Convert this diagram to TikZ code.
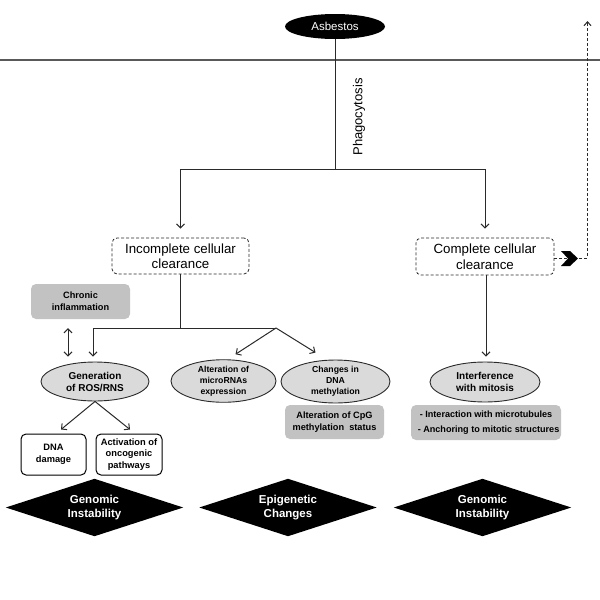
\documentclass[tikz,border=0pt]{standalone}
\usepackage{fontspec}
\setmainfont{Liberation Sans}
\usetikzlibrary{shapes.geometric,arrows.meta}
\definecolor{ellfill}{HTML}{DADADA}
\definecolor{boxgray}{HTML}{C2C2C2}
\definecolor{linec}{HTML}{2A2A2A}
\begin{document}
\begin{tikzpicture}[x=1pt,y=-1pt,
  conn/.style={draw=linec,line width=1pt},
  arr/.style={conn,-{Straight Barb[length=4pt,width=8pt]}},
  dbl/.style={conn,{Straight Barb[length=4pt,width=8pt]}-{Straight Barb[length=4pt,width=8pt]}},
  dashbox/.style={draw=linec,line width=0.8pt,dash pattern=on 3pt off 2pt,rounded corners=5pt,fill=white,inner sep=0pt,align=center,font=\fontsize{13.3}{15.5}\selectfont},
  ell/.style={ellipse,draw=linec,line width=0.9pt,fill=ellfill,inner sep=0pt,align=center,font=\bfseries\fontsize{10}{12}\selectfont},
  graybox/.style={rectangle,rounded corners=5pt,fill=boxgray,inner sep=0pt,align=center,font=\bfseries\fontsize{9.2}{12}\selectfont},
  whitebox/.style={rectangle,rounded corners=5pt,draw=black,line width=1pt,fill=white,inner sep=0pt,align=center,font=\bfseries\fontsize{9.3}{11.5}\selectfont},
  dmd/.style={rectangle,inner sep=0pt,minimum width=177pt,minimum height=57pt,align=center,text=white,font=\bfseries\fontsize{11.5}{14}\selectfont}
]
\path[use as bounding box] (0,0) rectangle (600,600);

% membrane
\draw[line width=1.4pt,draw=gray!70!black] (0,60) -- (600,60);

% nodes
\node[ellipse,fill=black,text=white,minimum width=100pt,minimum height=25pt,inner sep=0pt,font=\fontsize{11.5}{13}\selectfont] (asb) at (335,26.5) {Asbestos};
\node[rotate=90,font=\fontsize{13}{15}\selectfont] (phago) at (359,117) {Phagocytosis};

\node[dashbox,minimum width=137pt,minimum height=36pt] (inc) at (180.5,256) {Incomplete cellular\\clearance};
\node[dashbox,minimum width=138pt,minimum height=37pt] (cc) at (485,256.5) {Complete cellular\\clearance};

\node[graybox,minimum width=99pt,minimum height=35pt] (chr) at (80.5,301.5) {Chronic\\inflammation};

\node[ell,minimum width=108pt,minimum height=39pt] (ros) at (95,381.5) {Generation\\of ROS/RNS};
\node[ell,minimum width=105pt,minimum height=42pt,font=\bfseries\fontsize{8.7}{11}\selectfont] (mir) at (223.5,381) {Alteration of\\microRNAs\\expression};
\node[ell,minimum width=109pt,minimum height=43pt,font=\bfseries\fontsize{8.7}{11}\selectfont] (meth) at (335.5,381.5) {Changes in\\DNA\\methylation};
\node[ell,minimum width=110pt,minimum height=40pt] (int) at (485,382) {Interference\\with mitosis};

\node[graybox,minimum width=99pt,minimum height=34pt] (cpg) at (334.5,422) {Alteration of CpG\\methylation\ \ status};
\node[graybox,minimum width=150pt,minimum height=35pt,font=\bfseries\fontsize{9.1}{15}\selectfont] (mito) at (486,422.5) {- Interaction with microtubules\\\ \ - Anchoring to mitotic structures};

\node[whitebox,minimum width=65pt,minimum height=41pt] (dmg) at (53.5,454.5) {DNA\\damage};
\node[whitebox,minimum width=66pt,minimum height=41pt] (act) at (129,454.5) {Activation of\\oncogenic\\pathways};

\node[dmd] (g1) at (94.5,507.5) {};
\node[dmd] (epi) at (288,507.5) {};
\node[dmd] (g2) at (482.5,507.5) {};
\foreach \n in {g1,epi,g2}{
  \fill[black] (\n.west) -- (\n.north) -- (\n.east) -- (\n.south) -- cycle;
}
\node[dmd] (g1t) at (g1) {Genomic\\Instability};
\node[dmd] (epit) at (epi) {Epigenetic\\Changes};
\node[dmd] (g2t) at (g2) {Genomic\\Instability};

% connectors
\coordinate (top) at (335,169);
\draw[conn] (asb.south) -- (top);
\draw[arr] (top) -| ([shift={(0,-9)}]inc.north);
\draw[arr] (top) -| ([shift={(0,-9)}]cc.north);

\coordinate (j1) at (180.5,328);
\coordinate (j2) at (276,328);
\draw[conn] (inc.south) -- (j1);
\draw[arr] (j2) -| ([shift={(-2,-5)}]ros.north);
\draw[arr] (j2) -- ([shift={(12,-5)}]mir.north);
\draw[arr] (j2) -- ([shift={(-20,-7)}]meth.north);

\draw[dbl] ([shift={(-12.5,9)}]chr.south) -- ([shift={(-27,-5)}]ros.north);

\draw[arr] (ros.south) -- ([shift={(7.5,-4)}]dmg.north);
\draw[arr] (ros.south) -- ([shift={(1,-4)}]act.north);

\draw[arr] ([xshift=1pt]cc.south) -- ([shift={(1,-5)}]int.north);

% dashed loop back out
\coordinate (corner) at (587.5,258);
\coordinate (out) at (587.5,21);
\draw[conn,dash pattern=on 3pt off 2pt,-{Straight Barb[length=4pt,width=7pt]}] (cc.east |- corner) -- (corner) -- (out);
\fill[black] (561,251) -- (570,251) -- (578,258.5) -- (570,266) -- (561,266) -- (568,258.5) -- cycle;

\end{tikzpicture}
\end{document}
